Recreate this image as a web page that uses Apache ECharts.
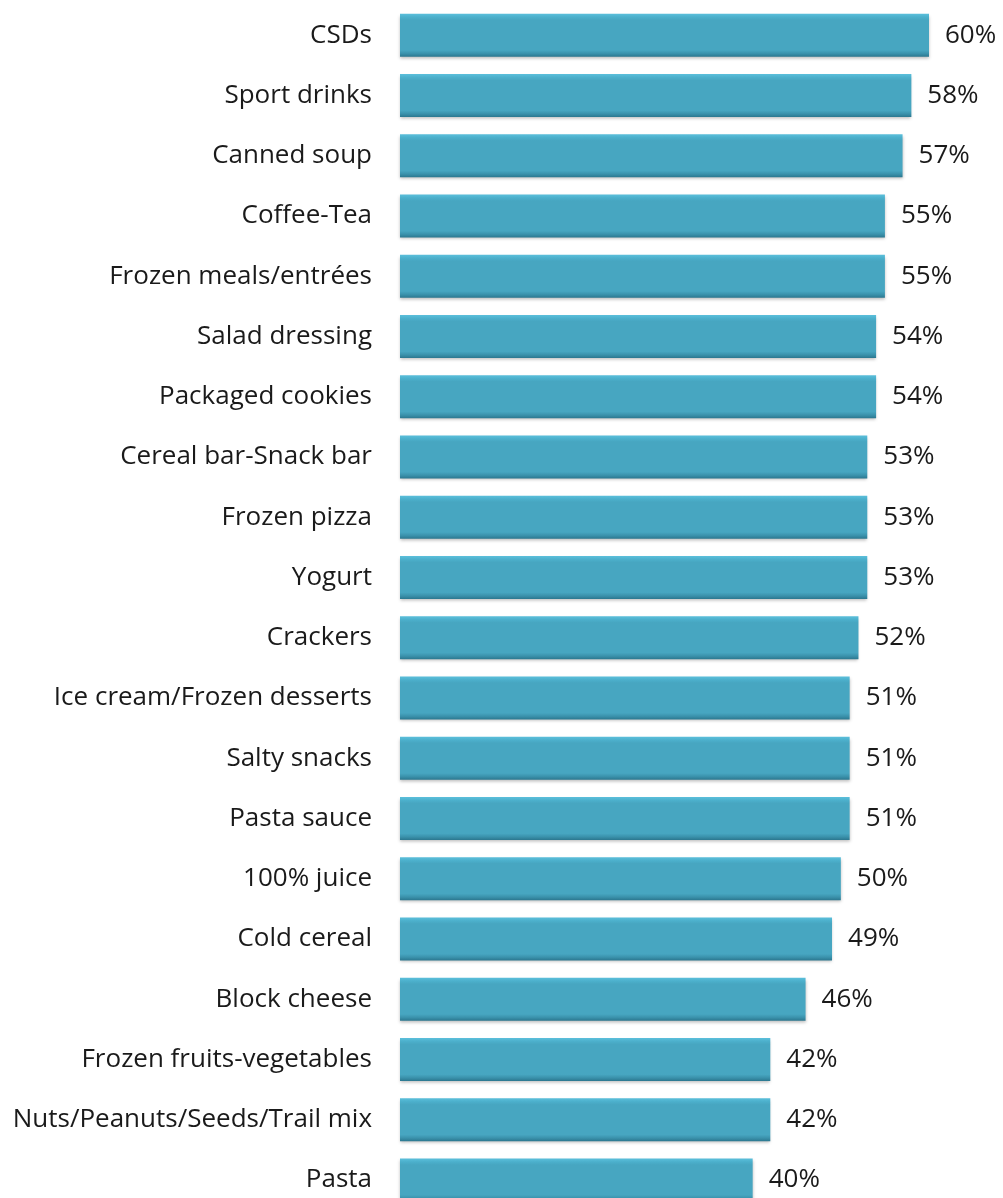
<!DOCTYPE html>
<html>
<head>
<meta charset="utf-8">
<script src="https://cdn.jsdelivr.net/npm/echarts@6/dist/echarts.min.js"></script>
<style>
  html, body { margin: 0; padding: 0; background: #fff; }
  #chart { width: 1003px; height: 1198px; }
</style>
</head>
<body>
<div id="chart"></div>
<script>
const categories = [
  'CSDs', 'Sport drinks', 'Canned soup', 'Coffee-Tea', 'Frozen meals/entrées',
  'Salad dressing', 'Packaged cookies', 'Cereal bar-Snack bar', 'Frozen pizza', 'Yogurt',
  'Crackers', 'Ice cream/Frozen desserts', 'Salty snacks', 'Pasta sauce', '100% juice',
  'Cold cereal', 'Block cheese', 'Frozen fruits-vegetables', 'Nuts/Peanuts/Seeds/Trail mix', 'Pasta'
];
const values = [60, 58, 57, 55, 55, 54, 54, 53, 53, 53, 52, 51, 51, 51, 50, 49, 46, 42, 42, 40];

const chart = echarts.init(document.getElementById('chart'));

// bevelled bar look: light top edge, flat body, dark bottom edge
const barColor = new echarts.graphic.LinearGradient(0, 0, 0, 1, [
  { offset: 0, color: '#5cc0dc' },
  { offset: 0.08, color: '#4cb0cc' },
  { offset: 0.15, color: '#47a6c1' },
  { offset: 0.85, color: '#47a6c1' },
  { offset: 0.93, color: '#3a91ab' },
  { offset: 1, color: '#2c7890' }
]);

const option = {
  animation: false,
  grid: { left: 400, top: 5, width: 529, height: 1205, outerBoundsMode: 'none' },
  xAxis: {
    type: 'value',
    min: 0,
    max: 60,
    show: false
  },
  yAxis: {
    type: 'category',
    inverse: true,
    data: categories,
    axisLine: { show: false },
    axisTick: { show: false },
    axisLabel: {
      margin: 28,
      fontFamily: 'Open Sans',
      fontSize: 26,
      color: '#1a1a1a'
    }
  },
  series: [{
    type: 'bar',
    data: values,
    barWidth: 43,
    itemStyle: {
      color: barColor,
      shadowColor: 'rgba(0,0,0,0.25)',
      shadowBlur: 3,
      shadowOffsetY: 2
    },
    label: {
      show: true,
      position: 'right',
      distance: 16,
      formatter: '{c}%',
      fontFamily: 'Open Sans',
      fontSize: 26,
      color: '#1a1a1a'
    }
  }]
};

chart.setOption(option);
</script>
</body>
</html>
